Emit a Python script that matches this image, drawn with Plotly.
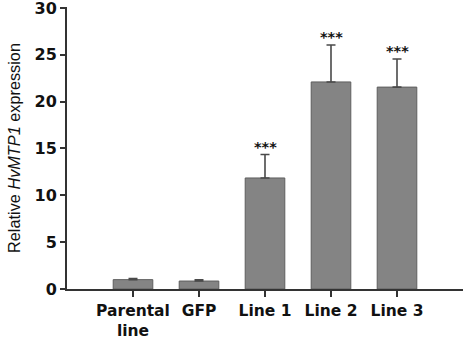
import plotly.graph_objects as go

categories = ["Parental<br>line", "GFP", "Line 1", "Line 2", "Line 3"]
means = [1.0, 0.85, 11.85, 22.1, 21.55]
errors_up = [0.12, 0.12, 2.5, 3.95, 3.0]
signif = ["", "", "***", "***", "***"]
y_ticks = [0, 5, 10, 15, 20, 25, 30]

x_pos = list(range(len(categories)))

fig = go.Figure()
fig.add_trace(go.Bar(
    x=x_pos, y=means, width=0.6,
    marker=dict(color="#848484", line=dict(color="#5e5e5e", width=1)),
    error_y=dict(type="data", array=errors_up, arrayminus=[0]*len(means),
                 symmetric=False, color="#4a4a4a", thickness=1.6, width=4.5),
))

for xi, m, e, s in zip(x_pos, means, errors_up, signif):
    if s:
        fig.add_annotation(x=xi, y=m + e, text=f"<b>{s}</b>", showarrow=False,
                           yanchor="middle", yshift=8,
                           font=dict(family="DejaVu Sans", size=14.5, color="#111"))

xtickfont = dict(family="DejaVu Sans", size=15.5, color="#111")
ytickfont = dict(family="DejaVu Sans", size=16, color="#111")
fig.update_layout(
    width=474, height=348,
    margin=dict(l=67, r=11, t=7, b=59, autoexpand=False),
    plot_bgcolor="white", paper_bgcolor="white",
    showlegend=False,
    xaxis=dict(range=[-1, 5], tickmode="array", tickvals=x_pos, ticktext=[f"<b>{c}</b>" for c in categories],
               showline=True, linecolor="#333", linewidth=2, ticks="outside",
               ticklen=6, tickwidth=1.5, tickcolor="#333", tickfont=xtickfont,
               showgrid=False, zeroline=False, automargin=False),
    yaxis=dict(range=[0, 30.1], tickmode="array", tickvals=y_ticks, ticktext=[f"<b>{t}</b>" for t in y_ticks],
               showline=True, linecolor="#333", linewidth=2, ticks="outside",
               ticklen=5, tickwidth=1.5, tickcolor="#333", tickfont=ytickfont,
               ticklabeloverflow="allow", automargin=False,
               showgrid=False, zeroline=False,
               title=dict(text="Relative <i>HvMTP1</i> expression",
                          font=dict(family="Liberation Sans", size=16.3, color="#111"),
                          standoff=10)),
)

fig.write_html("out.html")
